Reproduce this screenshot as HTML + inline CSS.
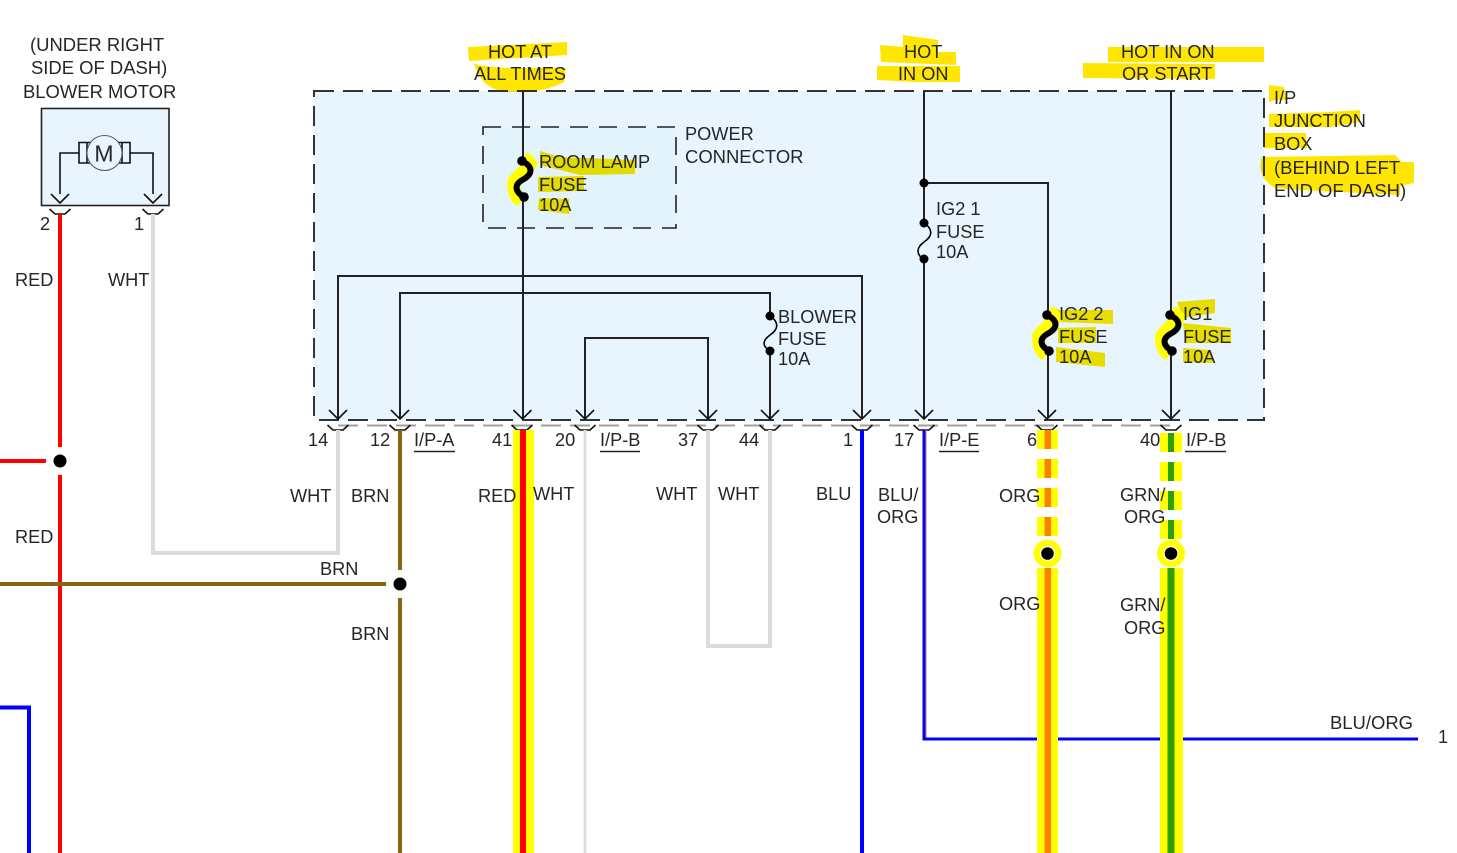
<!DOCTYPE html>
<html><head><meta charset="utf-8"><style>
html,body{margin:0;padding:0;background:#fff}
svg{display:block}
text{font-family:"Liberation Sans",sans-serif;font-size:18.2px;fill:#262626}
text.w{font-size:18.45px}
.h{fill:#ffe600;mix-blend-mode:multiply}
.y{fill:#ffff00}
.k{fill:none;stroke:#222;stroke-width:2}
.f{fill:none;stroke:#000;stroke-width:6;stroke-linecap:round}
.t{fill:none;stroke:#111;stroke-width:1.6}
.g{fill:none;stroke:#dcdcdc;stroke-width:4}
</style></head><body>
<svg width="1457" height="853" viewBox="0 0 1457 853" xmlns="http://www.w3.org/2000/svg">
<defs></defs>
<rect width="1457" height="853" fill="#fff"/>
<!-- boxes -->
<rect x="314" y="91" width="950" height="329" fill="#e8f5fe"/>
<rect x="483" y="127" width="193" height="101" fill="#e2f3fc"/>
<rect x="314" y="91" width="950" height="329" fill="none" stroke="#333" stroke-width="2" stroke-dasharray="20 9"/>
<rect x="483" y="127" width="193" height="101" fill="none" stroke="#222" stroke-width="1.6" stroke-dasharray="18 11"/>
<rect x="41.5" y="108.5" width="127.5" height="97" fill="#e8f5fe" stroke="#222" stroke-width="1.6"/>
<!-- highlights -->
<polygon class="h" points="468,47 567,42 567,55 469,61"/>
<path class="h" d="M474,63 C478,66 500,68 513,68 L566,68 L564,82 C552,88 540,92 515,92 C495,92 480,86 474,63Z"/>
<polygon class="h" points="903,35 938,40 938,52 956,52 956,65 881,62 880,45 903,47"/>
<polygon class="h" points="877,66 960,66 960,82 915,82 877,80"/>
<polygon class="h" points="1108,47 1264,47 1264,62 1108,62"/>
<polygon class="h" points="1083,63 1215,64 1215,79 1083,78"/>
<polygon class="h" points="1269,85 1284,87 1286,100 1275,100 1269,102"/>
<polygon class="h" points="1269,114 1330,112 1360,110 1360,122 1330,127 1269,127"/>
<polygon class="h" points="1264,133 1306,133 1307,148 1264,148"/>
<path class="h" d="M1262,157 L1395,155 L1402,162 L1414,162 L1414,183 L1400,186 L1400,195 L1300,190 L1275,188 C1262,180 1258,170 1262,157Z"/>
<polygon class="h" points="540,151 560,157 635,160 635,174 580,175 540,165"/>
<polygon class="h" points="538,177 584,176 584,191 538,192"/>
<polygon class="h" points="539,198 569,199 569,214 538,210"/>
<polygon class="h" points="1052,307 1060,310 1113,310 1113,324 1058,322"/>
<polygon class="h" points="1058,328 1096,327 1096,343 1058,343"/>
<polygon class="h" points="1056,347 1105,353 1105,367 1056,362"/>
<polygon class="h" points="1177,302 1215,299 1215,313 1183,318"/>
<polygon class="h" points="1183,323 1231,328 1231,343 1185,343"/>
<polygon class="h" points="1183,348 1210,350 1213,363 1183,362"/>
<!-- fuse highlights -->
<path class="y" d="M528,152 L538,162 C534,175 522,180 520,187 C520,192 522,198 524,199 L517,206 C509,200 507,192 507,183 C508,172 522,170 522,158Z"/>
<path class="y" transform="translate(525,154)" d="M528,152 L538,162 C534,175 522,180 520,187 C520,192 522,198 524,199 L517,206 C509,200 507,192 507,183 C508,172 522,170 522,158Z"/>
<path class="y" transform="translate(648,154)" d="M528,152 L538,162 C534,175 522,180 520,187 C520,192 522,198 524,199 L517,206 C509,200 507,192 507,183 C508,172 522,170 522,158Z"/>
<!-- connector gray dashes -->
<line x1="338" y1="425.500" x2="1171" y2="425.500" stroke="#a0a0a0" stroke-width="2" stroke-dasharray="20 9"/>
<!-- cups -->
<path class="t" d="M327.500,425 L333,430 H343 L348.500,425 M389.500,425 L395,430 H405 L410.500,425 M511.500,425 L517,430 H527 L532.500,425 M574.500,425 L580,430 H590 L595.500,425 M697.500,425 L703,430 H713 L718.500,425 M759.500,425 L765,430 H775 L780.500,425 M851.500,425 L857,430 H867 L872.500,425 M913.500,425 L919,430 H929 L934.500,425 M1036.500,425 L1042,430 H1052 L1057.500,425 M1160.500,425 L1166,430 H1176 L1181.500,425 M49.500,209 L55,214 H65 L70.500,209 M142.500,209 L148,214 H158 L163.500,209"/>
<!-- wires -->
<path d="M60,214V447M60,475V853M0,461H46" fill="none" stroke="#ff0000" stroke-width="4"/>
<path class="g" d="M153,214V553H338V430"/>
<path d="M0,584H386M400,430V570M400,598V853" fill="none" stroke="#886611" stroke-width="4"/>
<path d="M0,707.5H29V853" fill="none" stroke="#0000ff" stroke-width="4"/>
<rect x="513" y="430" width="21" height="423" class="y"/>
<rect x="520" y="430" width="6" height="423" fill="#ff0000"/>
<line x1="585" y1="430" x2="585" y2="853" stroke="#dcdcdc" stroke-width="3"/>
<path class="g" d="M708,430V646H770V430"/>
<line x1="862" y1="430" x2="862" y2="853" stroke="#0000ff" stroke-width="4"/>
<line x1="926" y1="430" x2="926" y2="738" stroke="#e08040" stroke-width="1"/>
<path d="M924,430V739H1418" fill="none" stroke="#0000ff" stroke-width="3"/>
<!-- orange wire -->
<g class="y">
<rect x="1037" y="430" width="21" height="19"/><rect x="1037" y="459" width="21" height="19"/><rect x="1037" y="488" width="21" height="19"/><rect x="1037" y="517" width="21" height="19"/><rect x="1037" y="568" width="21" height="285"/>
<rect x="1160" y="433" width="22" height="19"/><rect x="1160" y="462" width="22" height="19"/><rect x="1160" y="491" width="22" height="19"/><rect x="1160" y="520" width="22" height="19"/><rect x="1160" y="568" width="23" height="285"/>
</g>
<g fill="#ff8000">
<rect x="1044.500" y="430" width="6.500" height="19"/><rect x="1044.500" y="459" width="6.500" height="19"/><rect x="1044.500" y="488" width="6.500" height="19"/><rect x="1044.500" y="517" width="6.500" height="19"/><rect x="1044.500" y="568" width="6.500" height="285"/>
</g>
<g fill="#2ea000">
<rect x="1168" y="433" width="6" height="19"/><rect x="1168" y="462" width="6" height="19"/><rect x="1168" y="491" width="6" height="19"/><rect x="1168" y="520" width="6" height="19"/><rect x="1167.500" y="568" width="7" height="285"/>
</g>
<circle cx="1047.500" cy="553.500" r="14" fill="#ffff00"/><circle cx="1047.500" cy="553.500" r="7.500" fill="#fff"/><circle cx="1047.500" cy="553.500" r="6.300" fill="#000"/>
<circle cx="1171" cy="553.500" r="14" fill="#ffff00"/><circle cx="1171" cy="553.500" r="7.500" fill="#fff"/><circle cx="1171" cy="553.500" r="6.300" fill="#000"/>
<circle cx="60" cy="461" r="6.500" fill="#000"/>
<circle cx="400" cy="584" r="6.500" fill="#000"/>
<!-- internal lines -->
<path class="k" d="M523,91V160M523,197V418M338,418V276H862V418M400,418V293H770V316M770,351V418M585,418V338H708V418M924,91V223M924,260V418M924,183H1048V315M1048,352V418M1171,91V315M1171,352V418"/>
<!-- arrowheads -->
<path class="t" d="M329,410L338,419L347,410M391,410L400,419L409,410M513.500,410L522.500,419L531.500,410M576,410L585,419L594,410M699,410L708,419L717,410M761,410L770,419L779,410M853,410L862,419L871,410M915,410L924,419L933,410M1038,410L1047,419L1056,410M1162,410L1171,419L1180,410M51,194L60,203L69,194M144,194L153,203L162,194"/>
<!-- fuses -->
<path class="f" d="M522,161C534,167 532,174 524,179C514,184 514,191 524,197"/>
<circle cx="522" cy="161" r="4.800"/><circle cx="524" cy="197" r="4.800"/>
<path class="f" transform="translate(525,154)" d="M522,161C534,167 532,174 524,179C514,184 514,191 524,197"/>
<circle cx="1047" cy="315" r="4.800"/><circle cx="1049" cy="351" r="4.800"/>
<path class="f" transform="translate(648,154)" d="M522,161C534,167 532,174 524,179C514,184 514,191 524,197"/>
<circle cx="1170" cy="315" r="4.800"/><circle cx="1172" cy="351" r="4.800"/>
<path d="M924,223C933,229 933,236 924,242C916,248 916,254 924,260" fill="none" stroke="#000" stroke-width="1.600"/>
<circle cx="924" cy="223" r="4.500"/><circle cx="924" cy="259" r="4.500"/><circle cx="924" cy="183" r="4.500"/>
<path d="M770,316C779,322 779,329 770,335C762,341 762,346 770,351" fill="none" stroke="#000" stroke-width="1.600"/>
<circle cx="770" cy="316" r="4.500"/><circle cx="770" cy="351" r="4.500"/>
<!-- motor -->
<path class="t" d="M60,194V153H79M153,194V153H130M79,142.500H130V163H79ZM87,142.500V163M122,142.500V163"/>
<circle cx="104.500" cy="153" r="17.500" fill="#e8f5fe" stroke="#555" stroke-width="1"/>
<text x="104" y="161.500" text-anchor="middle" style="font-size:23px">M</text>
<!-- text -->
<text class="w" x="30" y="51">(UNDER RIGHT</text><text class="w" x="31" y="74">SIDE OF DASH)</text><text class="w" x="23" y="98">BLOWER MOTOR</text>
<text x="488" y="58">HOT AT</text><text x="474" y="80">ALL TIMES</text>
<text x="904" y="58">HOT</text><text x="898" y="80">IN ON</text>
<text x="1121" y="58">HOT IN ON</text><text x="1122" y="80">OR START</text>
<text x="1274" y="104">I/P</text><text x="1274" y="127">JUNCTION</text><text x="1274" y="150">BOX</text><text class="w" x="1274" y="174">(BEHIND LEFT</text><text class="w" x="1274" y="197">END OF DASH)</text>
<text x="685" y="140">POWER</text><text class="w" x="685" y="163">CONNECTOR</text>
<text x="539" y="168">ROOM LAMP</text><text x="539" y="191">FUSE</text><text x="539" y="211">10A</text>
<text x="936" y="215">IG2 1</text><text x="936" y="238">FUSE</text><text x="936" y="258">10A</text>
<text x="778" y="323">BLOWER</text><text x="778" y="345">FUSE</text><text x="778" y="365">10A</text>
<text x="1059" y="320">IG2 2</text><text x="1059" y="343">FUSE</text><text x="1059" y="363">10A</text>
<text x="1183" y="320">IG1</text><text x="1183" y="343">FUSE</text><text x="1183" y="363">10A</text>
<text x="308" y="446">14</text><text x="370" y="446">12</text><text x="414" y="446">I/P-A</text>
<text x="492" y="446">41</text><text x="555" y="446">20</text><text x="600" y="446">I/P-B</text>
<text x="678" y="446">37</text><text x="739" y="446">44</text><text x="843" y="446">1</text><text x="894" y="446">17</text><text x="939" y="446">I/P-E</text>
<text x="1027" y="446">6</text><text x="1140" y="446">40</text><text x="1186" y="446">I/P-B</text>
<path d="M414,451.500H455M600,451.500H640M939,451.500H979M1185,451.500H1226" stroke="#222" stroke-width="1.600" fill="none"/>
<text x="290" y="502">WHT</text><text x="351" y="502">BRN</text><text x="478" y="502">RED</text><text x="533" y="500">WHT</text>
<text x="656" y="500">WHT</text><text x="718" y="500">WHT</text><text x="816" y="500">BLU</text>
<text x="878" y="501">BLU/</text><text x="877" y="523">ORG</text>
<text x="999" y="502">ORG</text><text x="1120" y="501">GRN/</text><text x="1124" y="523">ORG</text>
<text x="999" y="610">ORG</text><text x="1120" y="611">GRN/</text><text x="1124" y="634">ORG</text>
<text x="15" y="286">RED</text><text x="108" y="286">WHT</text><text x="15" y="543">RED</text>
<text x="320" y="575">BRN</text><text x="351" y="640">BRN</text>
<text class="w" x="1330" y="729">BLU/ORG</text><text x="1438" y="743">1</text>
<text x="40" y="230">2</text><text x="134" y="230">1</text>
</svg>
</body></html>
